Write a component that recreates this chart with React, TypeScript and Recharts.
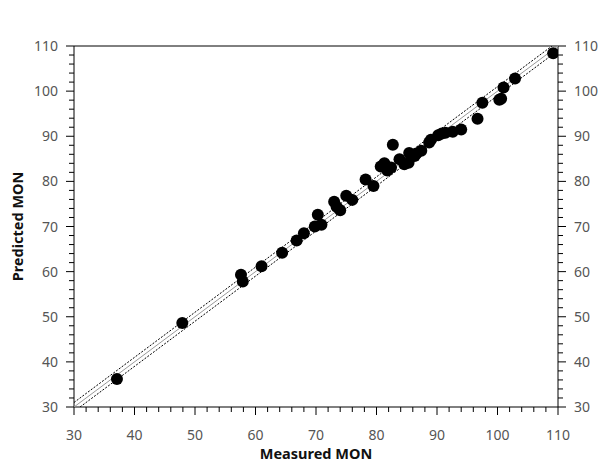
import { ScatterChart, Scatter, XAxis, YAxis } from "recharts";

// axis ticks
const majorTicks = [30, 40, 50, 60, 70, 80, 90, 100, 110];
const allTicks = [
    30, 32, 34, 36, 38, 40, 42, 44, 46, 48, 50, 52, 54, 56, 58, 60, 62, 64, 66, 68, 70,
    72, 74, 76, 78, 80, 82, 84, 86, 88, 90, 92, 94, 96, 98, 100, 102, 104, 106, 108, 110
];

// measured vs predicted MON
const measured = [
    37.1, 47.9, 57.6, 57.9, 61.0, 64.4, 66.8, 68.0, 69.8, 70.3, 70.9, 73.0, 73.4, 74.0,
    75.0, 76.0, 78.2, 79.5, 80.7, 81.3, 81.8, 82.4, 82.7, 83.8, 84.6, 85.3, 85.4, 86.3,
    86.6, 87.4, 88.7, 89.0, 90.2, 90.8, 91.4, 92.6, 94.0, 96.7, 97.5, 100.3, 100.6, 101.0,
    102.9, 109.2
];
const predicted = [
    36.2, 48.6, 59.3, 57.8, 61.2, 64.2, 66.9, 68.5, 70.0, 72.6, 70.4, 75.5, 74.4, 73.6,
    76.8, 75.9, 80.4, 79.0, 83.3, 84.0, 82.4, 83.1, 88.1, 84.9, 83.8, 84.1, 86.3, 85.6,
    86.2, 86.8, 88.6, 89.2, 90.2, 90.6, 90.8, 91.0, 91.5, 93.9, 97.4, 98.1, 98.3, 100.8,
    102.8, 108.4
];

// 1:1 line and its band
const fitLine = [{ x: 30, y: 30 }, { x: 110, y: 110 }];
const upperBand = [{ x: 30, y: 31 }, { x: 109, y: 110 }];
const lowerBand = [{ x: 31, y: 30 }, { x: 110, y: 109 }];

const points = measured.map((m, i) => ({ x: m, y: predicted[i] }));

const FONT = "'Noto Sans', 'DejaVu Sans', sans-serif";

const makeTick = (side: string) => (props: any) => {
    const { x, y, payload } = props;
    const v = payload.value;
    const major = majorTicks.includes(v);
    const len = major ? 8 : 5;
    let tickLine;
    let label = null;
    const txt = { fontFamily: FONT, fontSize: 14, fill: "#555" };
    if (side === "bottom") {
        tickLine = <line x1={x} x2={x} y1={y} y2={y + len} stroke="#000" />;
        if (major) label = <text x={x} y={y + 33} textAnchor="middle" {...txt}>{v}</text>;
    } else if (side === "top") {
        tickLine = <line x1={x} x2={x} y1={y} y2={y - len} stroke="#000" />;
        if (major) label = <text x={x} y={y - 19} textAnchor="middle" {...txt}>{v}</text>;
    } else if (side === "left") {
        tickLine = <line x1={x} x2={x - len} y1={y} y2={y} stroke="#000" />;
        if (major) label = <text x={x - 16} y={y + 5} textAnchor="end" {...txt}>{v}</text>;
    } else {
        tickLine = <line x1={x} x2={x + len} y1={y} y2={y} stroke="#000" />;
        if (major) label = <text x={x + 16} y={y + 5} textAnchor="start" {...txt}>{v}</text>;
    }
    return <g>{tickLine}{label}</g>;
};

const noShape = () => <g />;
const dot = (p: any) => <circle cx={p.cx} cy={p.cy} r={6} fill="#000" />;

const App = () => {
    return (
        <div style={{ position: "absolute", left: 0.5, top: 0.5, fontFamily: FONT }}>
            <ScatterChart width={603} height={461} margin={{ top: 0, right: 0, bottom: 0, left: 0 }}>
                <XAxis
                    type="number" dataKey="x" domain={[30, 110]} ticks={allTicks} interval={0}
                    allowDataOverflow height={55} tickSize={0} tickMargin={0} tickLine={false}
                    stroke="#000" tick={makeTick("bottom")}
                    label={{
                        content: ({ viewBox }: any) => (
                            <text x={viewBox.x + viewBox.width / 2} y={viewBox.y + 52} textAnchor="middle"
                                fontFamily={FONT} fontSize={14.5} fontWeight="bold" fill="#111">Measured MON</text>
                        )
                    }}
                />
                <XAxis
                    xAxisId="top" orientation="top" type="number" domain={[30, 110]} ticks={allTicks}
                    interval={0} allowDataOverflow height={45} tickSize={0} tickMargin={0} tickLine={false}
                    stroke="#000" tick={makeTick("top")}
                />
                <YAxis
                    type="number" dataKey="y" domain={[30, 110]} ticks={allTicks} interval={0}
                    allowDataOverflow width={73} tickSize={0} tickMargin={0} tickLine={false}
                    stroke="#000" tick={makeTick("left")}
                    label={{
                        content: ({ viewBox }: any) => {
                            const cx = 22;
                            const cy = viewBox.y + viewBox.height / 2;
                            return (
                                <text x={cx} y={cy} transform={`rotate(-90 ${cx} ${cy})`} textAnchor="middle"
                                    fontFamily={FONT} fontSize={14.5} fontWeight="bold" fill="#111">Predicted MON</text>
                            );
                        }
                    }}
                />
                <YAxis
                    yAxisId="right" orientation="right" type="number" domain={[30, 110]} ticks={allTicks}
                    interval={0} allowDataOverflow width={46} tickSize={0} tickMargin={0} tickLine={false}
                    stroke="#000" tick={makeTick("right")}
                />
                <Scatter data={fitLine} line={{ stroke: "#999", strokeWidth: 1 }} shape={noShape} isAnimationActive={false} />
                <Scatter data={upperBand} line={{ stroke: "#000", strokeWidth: 1, strokeDasharray: "2 1.5" }} shape={noShape} isAnimationActive={false} />
                <Scatter data={lowerBand} line={{ stroke: "#000", strokeWidth: 1, strokeDasharray: "2 1.5" }} shape={noShape} isAnimationActive={false} />
                <Scatter data={points} fill="#000" shape={dot} isAnimationActive={false} />
            </ScatterChart>
        </div>
    );
};

export default App;
